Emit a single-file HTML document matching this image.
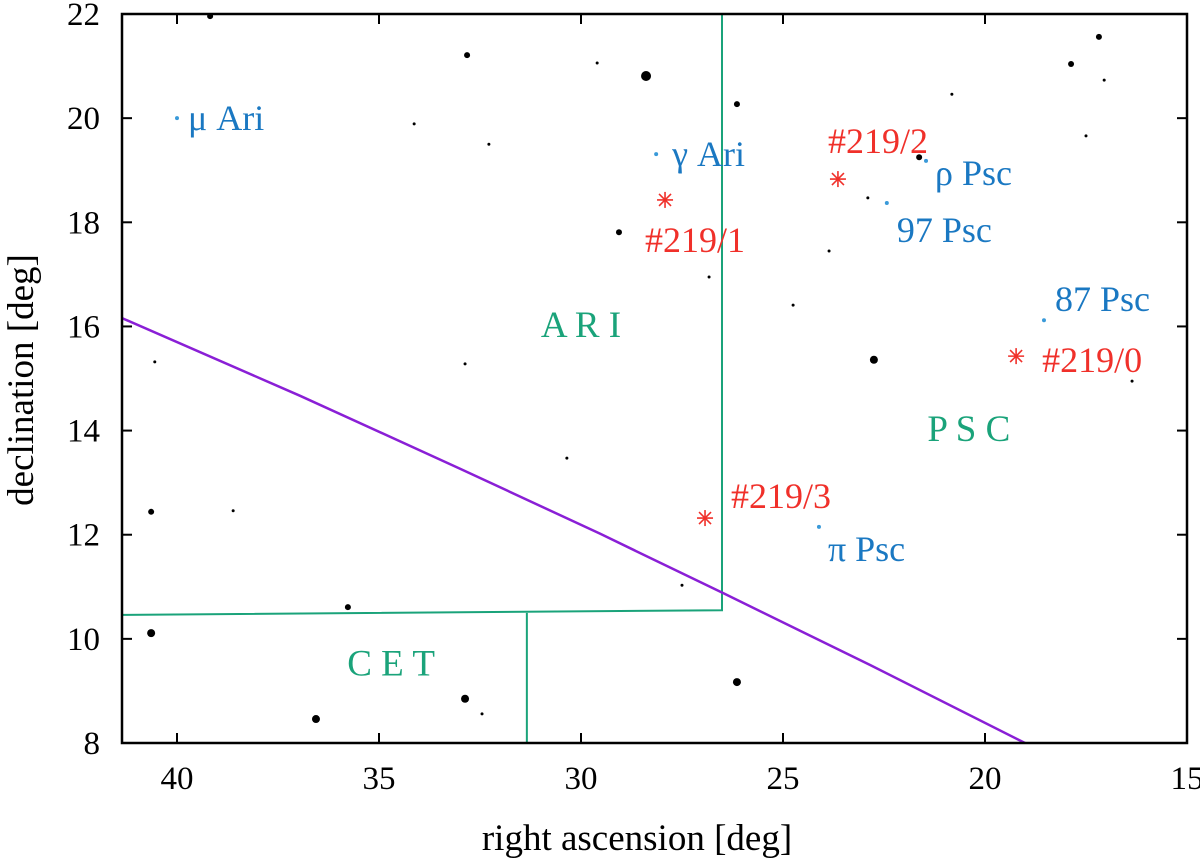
<!DOCTYPE html>
<html><head><meta charset="utf-8"><style>
html,body{margin:0;padding:0;background:#fff}
svg{display:block;font-family:"Liberation Serif",serif}
</style></head><body>
<svg id="c" width="1200" height="863"></svg>
<script>
const raTicks=[40,35,30,25,20,15];
const decTicks=[8,10,12,14,16,18,20,22];
const starRA=[39.18,32.82,29.6,28.39,34.13,32.28,26.14,20.82,17.87,17.18,17.05,17.5,21.63,22.9,29.06,23.86,26.83,24.75,22.75,16.36,40.55,32.87,30.35,40.64,38.61,27.5,35.77,40.64,26.14,32.87,36.56,32.45];
const starDec=[21.96,21.21,21.06,20.81,19.89,19.5,20.27,20.46,21.04,21.56,20.73,19.66,19.25,18.47,17.81,17.45,16.95,16.41,15.36,14.95,15.32,15.28,13.47,12.44,12.46,11.03,10.61,10.11,9.17,8.85,8.46,8.56];
const starSize=[3,3,1.5,5,1.5,1.5,3,1.5,3,3,1.5,1.5,3,1.5,3,1.5,1.5,1.5,4,1.5,1.5,1.5,1.5,3,1.5,1.5,3,4,4,4,4,1.5];
const namedStars=["μ Ari","γ Ari","ρ Psc","97 Psc","87 Psc","π Psc"];
const namedRA=[40.0,28.14,21.46,22.43,18.54,24.11];
const namedDec=[20.0,19.31,19.18,18.37,16.12,12.15];
const namedOff=[[11,0],[16,0],[9,12],[10,27],[11,-21],[9,22]];
const objNames=["#219/0","#219/1","#219/2","#219/3"];
const objRA=[19.23,27.92,23.64,26.93];
const objDec=[15.43,18.43,18.83,12.32];
const objOff=[[26,4],[-20,40],[-10,-38],[26,-22]];
const boundRA=[[26.51,26.51,41.36],[31.34,31.34]];
const boundDec=[[22,10.55,10.46],[10.5,8]];
const eclRA=[41.36,36.96,33.0,29.53,26.46,22.85,19.01];
const eclDec=[16.16,14.67,13.27,12.02,10.87,9.5,8];
const conNames=["A R I","P S C","C E T"];
const conRA=[30.0,20.4,34.7];
const conDec=[15.8,13.8,9.3];

const L=122,R=1187,T=14,B=743;
const X=ra=>1187-(ra-15)*40.4;
const Y=d=>743-(d-8)*52.07;
const svg=document.getElementById('c');
const NS="http://www.w3.org/2000/svg";
function mk(t,a,p){const e=document.createElementNS(NS,t);for(const k in a)e.setAttribute(k,a[k]);(p||svg).appendChild(e);return e;}

raTicks.forEach(v=>{
  const x=X(v);
  const l=mk('line',{x1:x,x2:x,y1:B,y2:B-10,stroke:'#000','stroke-width':2});
  
  
  mk('line',{x1:x,x2:x,y1:T,y2:T+10,stroke:'#000','stroke-width':2});
  const t=mk('text',{x:x,y:789,'text-anchor':'middle','font-size':33});
  t.textContent=v;
  
  
});
decTicks.forEach(v=>{
  const y=Y(v);
  const l=mk('line',{x1:L,x2:L+10,y1:y,y2:y,stroke:'#000','stroke-width':2});
  
  
  mk('line',{x1:R,x2:R-10,y1:y,y2:y,stroke:'#000','stroke-width':2});
  const t=mk('text',{x:100,y:y+11,'text-anchor':'end','font-size':33});
  t.textContent=v;
  
  
});

boundRA.forEach((arr,i)=>{
  const pts=arr.map((r,j)=>X(r)+','+Y(boundDec[i][j])).join(' ');
  const p=mk('polyline',{points:pts,fill:'none',stroke:'#1aa37a','stroke-width':2});
  
  
});
const ec=mk('polyline',{points:eclRA.map((r,i)=>X(r)+','+Y(eclDec[i])).join(' '),fill:'none',stroke:'#8a1fd6','stroke-width':2.5,'stroke-linejoin':'round'});



conNames.forEach((n,i)=>{
  const t=mk('text',{x:X(conRA[i]),y:Y(conDec[i]),'text-anchor':'middle','font-size':37,fill:'#1aa37a'});
  t.textContent=n;
  
  
});

starRA.forEach((r,i)=>{
  const c=mk('circle',{cx:X(r),cy:Y(starDec[i]),r:starSize[i],fill:'#000'});
  
  
});
namedStars.forEach((n,i)=>{
  const x=X(namedRA[i]),y=Y(namedDec[i]);
  const c=mk('circle',{cx:x,cy:y,r:2,fill:'#3a9ad9'});
  
  
  const t=mk('text',{x:x+namedOff[i][0],y:y+namedOff[i][1]+12,'font-size':36,fill:'#1a78c2'});
  t.textContent=n;
  
  
});
objNames.forEach((n,i)=>{
  const x=X(objRA[i]),y=Y(objDec[i]);
  const g=mk('g',{stroke:'#f0302a','stroke-width':1.6});
  
  
  mk('line',{x1:x-8,x2:x+8,y1:y,y2:y},g);
  mk('line',{x1:x,x2:x,y1:y-8,y2:y+8},g);
  mk('line',{x1:x-6,x2:x+6,y1:y-6,y2:y+6},g);
  mk('line',{x1:x-6,x2:x+6,y1:y+6,y2:y-6},g);
  const t=mk('text',{x:x+objOff[i][0],y:y+objOff[i][1]+12,'font-size':36,fill:'#f0302a'});
  t.textContent=n;
  
  
});

const fr=mk('rect',{x:L,y:T,width:R-L,height:B-T,fill:'none',stroke:'#000','stroke-width':2.5});


const xt=mk('text',{x:637,y:850,'text-anchor':'middle','font-size':37});
xt.textContent='right ascension [deg]';


const yt=mk('text',{x:0,y:0,'text-anchor':'middle','font-size':37,transform:'translate(33,380) rotate(-90)'});
yt.textContent='declination [deg]';


</script>
</body></html>
